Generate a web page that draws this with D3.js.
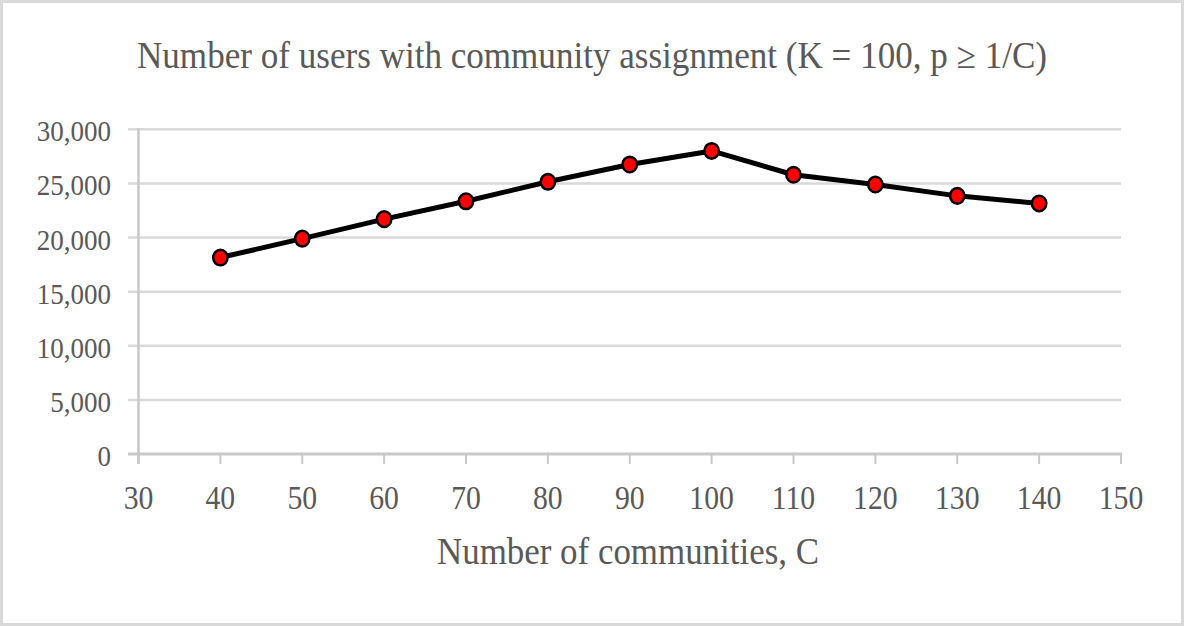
<!DOCTYPE html>
<html><head><meta charset="utf-8">
<script src="https://cdn.jsdelivr.net/npm/d3@7/dist/d3.min.js"></script>
<style>html,body{margin:0;padding:0;background:#fff;}svg{display:block;}</style>
</head><body>
<svg id="chart" width="1184" height="626"></svg>
<script>
const communities = [40, 50, 60, 70, 80, 90, 100, 110, 120, 130, 140];
const users = [18150, 19900, 21700, 23350, 25150, 26750, 28000, 25800, 24900, 23850, 23150];
const xTicks = [30, 40, 50, 60, 70, 80, 90, 100, 110, 120, 130, 140, 150];
const yTicks = [0, 5000, 10000, 15000, 20000, 25000, 30000];
const titleText = "Number of users with community assignment (K = 100, p \u2265 1/C)";
const xTitleText = "Number of communities, C";

const svg = d3.select("#chart");
const W = 1184, H = 626;
const font = "'Liberation Serif', 'Times New Roman', serif";
const textColor = "#595959";

svg.append("rect").attr("x", 1.5).attr("y", 1.5).attr("width", W - 3).attr("height", H - 3)
  .attr("fill", "#fff").attr("stroke", "#d9d9d9").attr("stroke-width", 3);

const x = d3.scaleLinear().domain([30, 150]).range([138.5, 1121]);
const y = d3.scaleLinear().domain([0, 30000]).range([454, 129.3]);

svg.append("g").selectAll("line").data(yTicks.filter(d => d > 0)).join("line")
  .attr("x1", 128).attr("x2", x(150))
  .attr("y1", d => y(d)).attr("y2", d => y(d))
  .attr("stroke", "#d9d9d9").attr("stroke-width", 2.5);

svg.append("line").attr("x1", x(30)).attr("x2", x(30)).attr("y1", y(30000) - 1).attr("y2", y(0) + 10)
  .attr("stroke", "#c8c8c8").attr("stroke-width", 2.5);

svg.append("line").attr("x1", 128).attr("x2", x(150) + 1).attr("y1", y(0)).attr("y2", y(0))
  .attr("stroke", "#c8c8c8").attr("stroke-width", 3);

svg.append("g").selectAll("line").data(xTicks).join("line")
  .attr("x1", d => x(d)).attr("x2", d => x(d))
  .attr("y1", y(0)).attr("y2", y(0) + 10)
  .attr("stroke", "#c8c8c8").attr("stroke-width", 2);

function condense(sel, f) {
  sel.each(function () {
    const n = this.getComputedTextLength();
    d3.select(this).attr("textLength", n * f).attr("lengthAdjust", "spacingAndGlyphs");
  });
}

const fmt = d3.format(",");
svg.append("g").selectAll("text").data(yTicks).join("text")
  .attr("x", 111).attr("y", d => y(d) + 12)
  .attr("text-anchor", "end")
  .attr("font-family", font).attr("font-size", 30).attr("fill", textColor)
  .text(d => fmt(d))
  .call(condense, 0.9);

svg.append("g").selectAll("text").data(xTicks).join("text")
  .attr("x", d => x(d)).attr("y", 509)
  .attr("text-anchor", "middle")
  .attr("font-family", font).attr("font-size", 33).attr("fill", textColor)
  .text(d => d)
  .call(condense, 0.9);

const line = d3.line().x((d, i) => x(communities[i])).y(d => y(d));
svg.append("path").datum(users).attr("d", line)
  .attr("fill", "none").attr("stroke", "#000").attr("stroke-width", 5).attr("stroke-linejoin", "round");

svg.append("g").selectAll("ellipse").data(users).join("ellipse")
  .attr("cx", (d, i) => x(communities[i])).attr("cy", d => y(d))
  .attr("rx", 7.2).attr("ry", 7.8).attr("fill", "#ff0000").attr("stroke", "#000").attr("stroke-width", 2.5);

svg.append("text").attr("x", 592).attr("y", 67.5).attr("text-anchor", "middle")
  .attr("font-family", font).attr("font-size", 37).attr("fill", textColor)
  .attr("textLength", 910).attr("lengthAdjust", "spacingAndGlyphs")
  .text(titleText);

svg.append("text").attr("x", 628).attr("y", 564).attr("text-anchor", "middle")
  .attr("font-family", font).attr("font-size", 38).attr("fill", textColor)
  .attr("textLength", 382).attr("lengthAdjust", "spacingAndGlyphs")
  .text(xTitleText);
</script>
</body></html>
